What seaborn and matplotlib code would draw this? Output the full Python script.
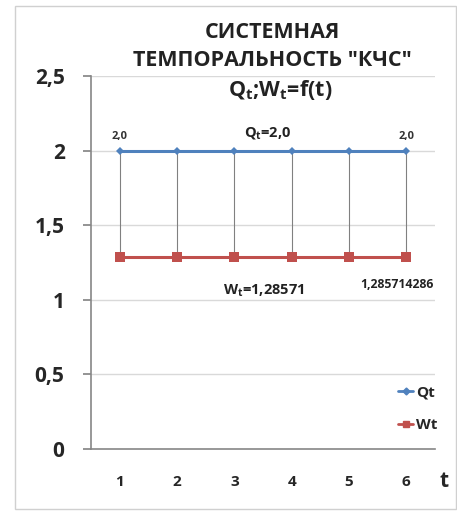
import matplotlib
matplotlib.use("Agg")
import matplotlib.pyplot as plt
import seaborn as sns
import pandas as pd
from matplotlib.patches import Rectangle
from matplotlib.lines import Line2D

t_values = [1, 2, 3, 4, 5, 6]
qt_values = [2.0, 2.0, 2.0, 2.0, 2.0, 2.0]
wt_values = [1.285714286] * 6
y_ticks = [0, 0.5, 1, 1.5, 2, 2.5]
y_tick_labels = ["0", "0,5", "1", "1,5", "2", "2,5"]
series_names = ["Qt", "Wt"]

sns.set_theme(style="white")
plt.rcParams['font.family'] = ['Open Sans', 'DejaVu Sans']

df = pd.DataFrame({
    "t": t_values * 2,
    "value": qt_values + wt_values,
    "series": [series_names[0]] * 6 + [series_names[1]] * 6,
})

fig = plt.figure(figsize=(4.57, 5.11), dpi=100)
ax = fig.add_axes([91/457, 1-449/511, (435-91)/457, (449-76)/511])

blue = "#4F81BD"
red = "#C0504D"
gray = "#868686"

# high-low lines
ax.vlines(t_values, wt_values, qt_values, color="#808080", lw=0.8, zorder=1)

sns.lineplot(data=df, x="t", y="value", hue="series", style="series",
             markers={"Qt": "D", "Wt": "s"}, dashes=False,
             palette={"Qt": blue, "Wt": red}, ax=ax, lw=2.2,
             markersize=5, markeredgewidth=0, legend=False, zorder=3)
for line in ax.get_lines():
    if matplotlib.colors.to_hex(line.get_color()).upper() == red:
        line.set_markersize(6.5)
    else:
        line.set_markersize(4)

ax.set_xlim(0.5, 6.5)
ax.set_ylim(0, 2.5)
ax.set_yticks(y_ticks)
ax.set_yticklabels(y_tick_labels, fontsize=15, fontweight="bold")
ax.set_xticks(t_values)
ax.set_xticklabels([str(v) for v in t_values], fontsize=11, fontweight="bold")
ax.tick_params(axis="y", length=6, color=gray, pad=13, left=True)
ax.tick_params(axis="x", length=0, pad=19)
ax.set_xlabel("")
ax.set_ylabel("")
for y in y_ticks[1:]:
    ax.axhline(y, color="#D9D9D9", lw=1, zorder=0)
for s in ["top", "right"]:
    ax.spines[s].set_visible(False)
ax.spines["left"].set_color(gray)
ax.spines["bottom"].set_color(gray)
ax.spines["left"].set_linewidth(1.2)
ax.spines["bottom"].set_linewidth(1.2)
ax.patch.set_alpha(0)

# data labels
ax.text(t_values[0], qt_values[0] + 0.06, "2,0", ha="center", va="bottom", fontsize=8, fontweight="bold", color="#333333")
ax.text(t_values[-1], qt_values[-1] + 0.06, "2,0", ha="center", va="bottom", fontsize=8, fontweight="bold", color="#333333")
ax.text(3.58, 2.06, "Q$_\\mathregular{t}$=2,0", ha="center", va="bottom", fontsize=10.5, fontweight="bold", color="#222222")
ax.text(3.52, 1.06, "W$_\\mathregular{t}$=1,28571", ha="center", va="center", fontsize=10.5, fontweight="bold", color="#222222")
ax.text(5.83, 1.10, "1,285714286", ha="center", va="center", fontsize=8.8, fontweight="bold", color="#222222")

# legend
handles = [Line2D([0], [0], color=blue, marker="D", markersize=3.5, lw=2),
           Line2D([0], [0], color=red, marker="s", markersize=5, lw=2)]
leg = fig.legend(handles, series_names, loc="center", bbox_to_anchor=(418/457, 1-409/511),
                 frameon=False, fontsize=11, handlelength=1.0, handletextpad=0.2,
                 labelspacing=1.2, borderpad=0)
for txt in leg.get_texts():
    txt.set_fontweight("bold")

# axis label t
fig.text(444/457, 1-481/511, "t", ha="center", va="center", fontsize=15, fontweight="bold")

# title
fig.text(272/457, 1-32/511, "СИСТЕМНАЯ", ha="center", va="center", fontsize=15.5, fontweight="bold", color="#222222")
fig.text(272/457, 1-60/511, "ТЕМПОРАЛЬНОСТЬ \"КЧС\"", ha="center", va="center", fontsize=15.5, fontweight="bold", color="#222222")
fig.text(280/457, 1-90/511, "Q$_\\mathregular{t}$;W$_\\mathregular{t}$=f(t)", ha="center", va="center", fontsize=15.5, fontweight="bold", color="#222222")

# outer frame
fig.patches.append(Rectangle((15/457, 1-509/511), (456-15)/457, (509-6)/511,
                             transform=fig.transFigure, fill=False, edgecolor="#D0D0D0", lw=1))

fig.savefig("out.png", dpi=100)
